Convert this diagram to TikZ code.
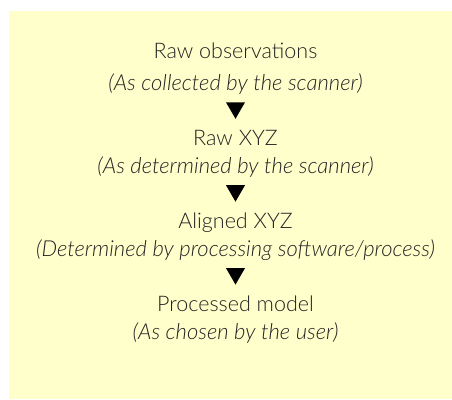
\documentclass[tikz,border=0pt]{standalone}
\usepackage{fontspec}
\setmainfont{Lato}[UprightFont=* Light, ItalicFont=* Light Italic]
\usepackage{tikz}
\usetikzlibrary{positioning,shapes.geometric}

\definecolor{notepad}{HTML}{FFFFCC}
\definecolor{inkgray}{HTML}{222222}

\tikzset{
	stage/.style={font=\fontsize{21.5}{24}\selectfont,
		text=inkgray,
		text height=15pt,
		text depth=4pt,
		inner sep=0pt},
	note/.style={stage,
		font=\fontsize{22}{25}\selectfont\itshape},
	pointer/.style={regular polygon,
		regular polygon sides=3,
		shape border rotate=180,
		minimum size=22pt,
		inner sep=0pt,
		fill=black}
}

\begin{document}
\begin{tikzpicture}[node distance=9pt]

\useasboundingbox (0,0) rectangle (452pt,-399pt);

% Background
\fill[notepad] (9pt,-11pt) rectangle (452pt,-399pt);

% Raw observations
\node[stage] (obs) at (235.5pt,-53pt) {Raw observations};
\node[note, below=13pt of obs] (obsnote) {(As collected by the scanner)};

\node[pointer, below=7pt of obsnote] (arrowa) {};

% Raw XYZ
\node[stage, below=11pt of arrowa] (rawxyz) {Raw XYZ};
\node[note, below=of rawxyz] (rawnote) {(As determined by the scanner)};

\node[pointer, below=7pt of rawnote] (arrowb) {};

% Aligned XYZ
\node[stage, below=11pt of arrowb] (aligned) {Aligned XYZ};
\node[note, below=of aligned] (alignnote) {(Determined by processing software/process)};

\node[pointer, below=7pt of alignnote] (arrowc) {};

% Processed model
\node[stage, below=11pt of arrowc] (model) {Processed model};
\node[note, below=of model] (modelnote) {(As chosen by the user)};

\end{tikzpicture}
\end{document}
